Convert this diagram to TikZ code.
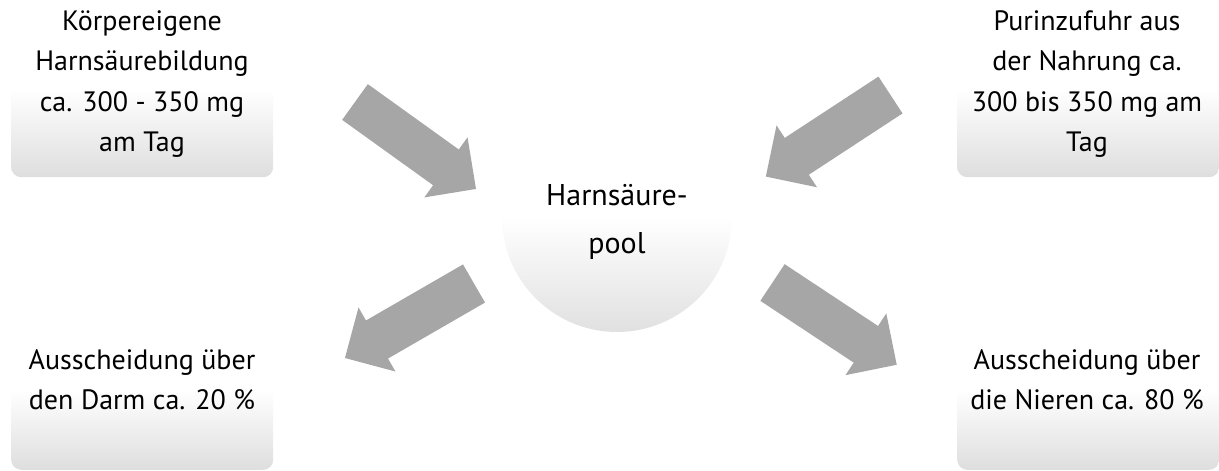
\documentclass[tikz,border=0pt]{standalone}
\usepackage{fontspec}
\setmainfont{PT Sans}
\begin{document}
\begin{tikzpicture}[x=1pt,y=1pt,
  boxshade/.style={rounded corners=10pt, top color=white, bottom color=black!13, middle color=white, draw=none, inner sep=0pt},
  txt/.style={font=\fontsize{28}{40.5}\selectfont, align=center, inner sep=0pt, anchor=north, text=black},
  pooltxt/.style={font=\fontsize{30}{48}\selectfont, align=center, inner sep=0pt, anchor=north, text=black},
  blockarrow/.style={fill=black!35, draw=none}
]
\useasboundingbox (0,0) rectangle (1219,-471);
% boxes
\node[boxshade, minimum width=262pt, minimum height=177pt, anchor=north west] (tl) at (11,0) {};
\node[boxshade, minimum width=262pt, minimum height=177pt, anchor=north west] (tr) at (957,0) {};
\node[boxshade, minimum width=262pt, minimum height=160pt, anchor=south west] (bl) at (11,-470) {};
\node[boxshade, minimum width=262pt, minimum height=160pt, anchor=south west] (br) at (957,-470) {};
% circle
\node[circle, minimum size=230pt, top color=white, bottom color=black!12, middle color=white, draw=none, inner sep=0pt] (pool) at (617,-217) {};
% texts
\node[txt] (tlt) at (142,-10) {Körpereigene\\Harnsäurebildung\\ca. 300 - 350 mg\\am Tag};
\node[txt] (trt) at (1087,-10) {Purinzufuhr aus\\der Nahrung ca.\\300 bis 350 mg am\\Tag};
\node[txt] (blt) at (142,-349) {Ausscheidung über\\den Darm ca. 20 \%};
\node[txt] (brt) at (1087,-349) {Ausscheidung über\\die Nieren ca. 80 \%};
\node[pooltxt] (poolt) at (617,-184) {Harnsäure-\\pool};
% block arrows
\fill[blockarrow, shift={(355,-102)}, rotate=-35.7] (0,-22) -- (112,-22) -- (112,-37) -- (149,0) -- (112,37) -- (112,22) -- (0,22) -- cycle;
\fill[blockarrow, shift={(890.5,-95)}, rotate=-146.8] (0,-22) -- (112,-22) -- (112,-37) -- (149,0) -- (112,37) -- (112,22) -- (0,22) -- cycle;
\fill[blockarrow, shift={(474,-283.5)}, rotate=-150] (0,-22) -- (112,-22) -- (112,-37) -- (149,0) -- (112,37) -- (112,22) -- (0,22) -- cycle;
\fill[blockarrow, shift={(772.5,-282.5)}, rotate=-33.5] (0,-22) -- (112,-22) -- (112,-37) -- (149,0) -- (112,37) -- (112,22) -- (0,22) -- cycle;
\end{tikzpicture}
\end{document}
